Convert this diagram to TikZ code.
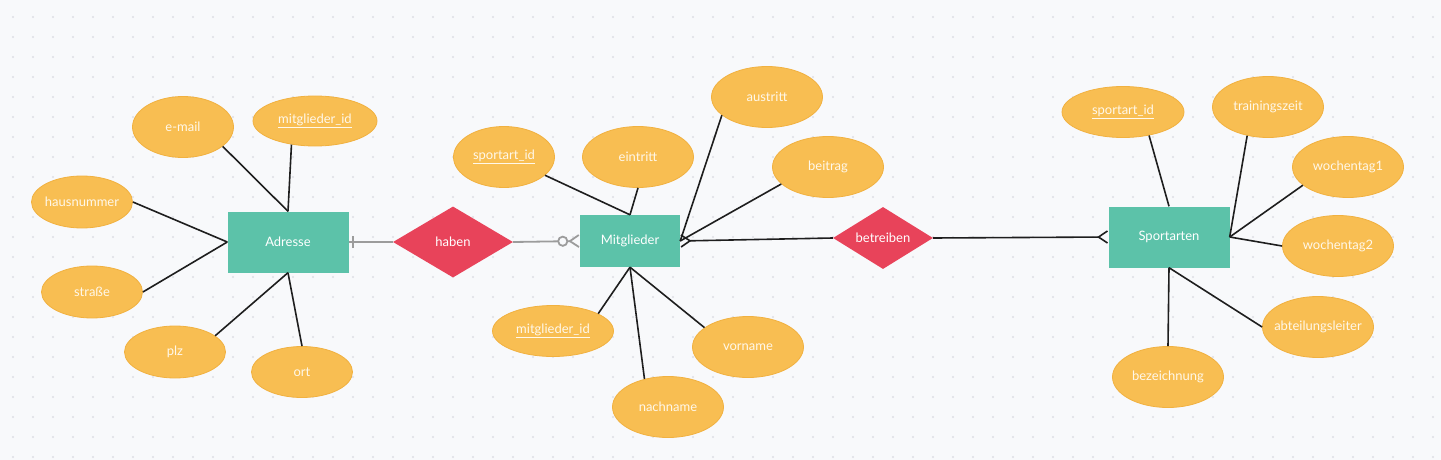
\documentclass[tikz,border=0pt]{standalone}
\usepackage{fontspec}
\setmainfont{Lato}
\usepackage{xcolor}
\usepackage{tikz}
\usetikzlibrary{shapes.geometric,arrows.meta,decorations.markings}
\definecolor{bgc}{HTML}{F8F9FB}
\definecolor{dotc}{HTML}{DDDEE4}
\definecolor{entgreen}{HTML}{5CC2A9}
\definecolor{relred}{HTML}{E8435A}
\definecolor{attrorange}{HTML}{F8BE52}
\definecolor{attredge}{HTML}{F1B140}
\definecolor{attrtext}{HTML}{FFF8EA}
\definecolor{linec}{HTML}{1E1E1E}
\definecolor{relgray}{HTML}{9C9C9C}
\newcommand{\pkey}[1]{\underline{#1}}

\tikzset{
  entity/.style={fill=entgreen, minimum width=121pt, minimum height=61pt,
    inner sep=0pt, text=white},
  relation/.style={diamond, aspect=1.7, fill=relred, inner sep=0pt, text=white},
  attr/.style={ellipse, fill=attrorange, draw=attredge, line width=0.8pt,
    minimum width=111pt, minimum height=61pt, inner xsep=-10pt, inner ysep=0pt,
    text=attrtext},
  link/.style={draw=linec, line width=1.6pt},
  rellink/.style={draw=relgray, line width=1.8pt},
  crow/.style={-{Straight Barb[reversed, length=9pt, width=12pt]}},
  zeromany/.style={-{Circle[open, length=11pt, fill=bgc] Straight Barb[reversed, length=9pt, width=12pt]}},
  onebar/.style={postaction={decorate}, decoration={markings,
    mark=at position 4pt with {\draw[relgray, line width=1.8pt] (0,-6pt) -- (0,6pt);}}}
}

\begin{document}
\begin{tikzpicture}[x=1pt, y=-1pt, font=\fontsize{13}{15}\selectfont]
\useasboundingbox (0,0) rectangle (1441,460);
\fill[bgc] (0,0) rectangle (1441,460);
\foreach \i in {0,...,71}
  \foreach \j in {0,...,22}
    \fill[dotc] (13+20*\i,17+20*\j) circle (1.1pt);

% entities and relations
\node[entity] (adr) at (288,242) {Adresse};
\node[entity, minimum width=100pt, minimum height=52pt] (mit) at (630,241) {Mitglieder};
\node[entity] (sport) at (1169,237) {Sportarten};
\node[relation, minimum width=120pt, minimum height=71pt] (haben) at (453,242) {haben};
\node[relation, minimum width=100pt, minimum height=62pt] (betr) at (883,238) {betreiben};

% attributes Adresse
\node[attr, minimum width=101pt, minimum height=61pt] (email) at (183,127) {e-mail};
\node[attr, minimum width=124pt, minimum height=50pt] (adrmid) at (315,121) {\pkey{mitglieder\_id}};
\node[attr, minimum width=101pt, minimum height=52pt] (hausnr) at (82,202) {hausnummer};
\node[attr, minimum width=101pt, minimum height=52pt] (strasse) at (92,292) {straße};
\node[attr, minimum width=101pt, minimum height=52pt] (plz) at (175,352) {plz};
\node[attr, minimum width=101pt, minimum height=51pt] (ort) at (302,372) {ort};

% attributes Mitglieder
\node[attr, minimum width=101pt] (mitsid) at (504,157) {\pkey{sportart\_id}};
\node[attr] (eintritt) at (638,157) {eintritt};
\node[attr] (austritt) at (767,97) {austritt};
\node[attr] (beitrag) at (828,167) {beitrag};
\node[attr, minimum width=121pt, minimum height=51pt] (mitmid) at (553,331) {\pkey{mitglieder\_id}};
\node[attr] (vorname) at (748,347) {vorname};
\node[attr] (nachname) at (668,407) {nachname};

% attributes Sportarten
\node[attr, minimum width=122pt, minimum height=51pt] (spid) at (1123,112) {\pkey{sportart\_id}};
\node[attr] (training) at (1268,107) {trainingszeit};
\node[attr] (wt1) at (1348,167) {wochentag1};
\node[attr] (wt2) at (1338,246) {wochentag2};
\node[attr] (abtl) at (1318,327) {abteilungsleiter};
\node[attr] (bez) at (1168,377) {bezeichnung};

% connectors
\draw[link] (email.-26) -- (adr.north);
\draw[link] (adrmid.-135) -- (adr.north);
\draw[link] (hausnr.east) -- (adr.west);
\draw[link] (strasse.east) -- (adr.west);
\draw[link] (plz.22) -- (adr.south);
\draw[link] (ort.north) -- (adr.south);

\draw[link] (mitsid.-24) -- (mit.north);
\draw[link] (eintritt.south) -- (mit.north);
\draw[link] (austritt.-158) -- (mit.east);
\draw[link] (beitrag.-160) -- (mit.east);
\draw[link] (mitmid.21) -- (mit.south);
\draw[link] (vorname.156) -- (mit.south);
\draw[link] (nachname.130) -- (mit.south);

\draw[link] (spid.-42) -- (sport.north);
\draw[link] (training.-126) -- (sport.east);
\draw[link] (wt1.-158) -- (sport.east);
\draw[link] (wt2.west) -- (sport.east);
\draw[link] (abtl.west) -- (sport.south);
\draw[link] (bez.north) -- (sport.south);

\draw[rellink, onebar] (adr.east) -- (haben.west);
\draw[rellink, zeromany] (haben.east) -- (mit.west);
\draw[link, crow] (betr.west) -- (mit.east);
\draw[link, crow] (betr.east) -- (sport.west);
\end{tikzpicture}
\end{document}
